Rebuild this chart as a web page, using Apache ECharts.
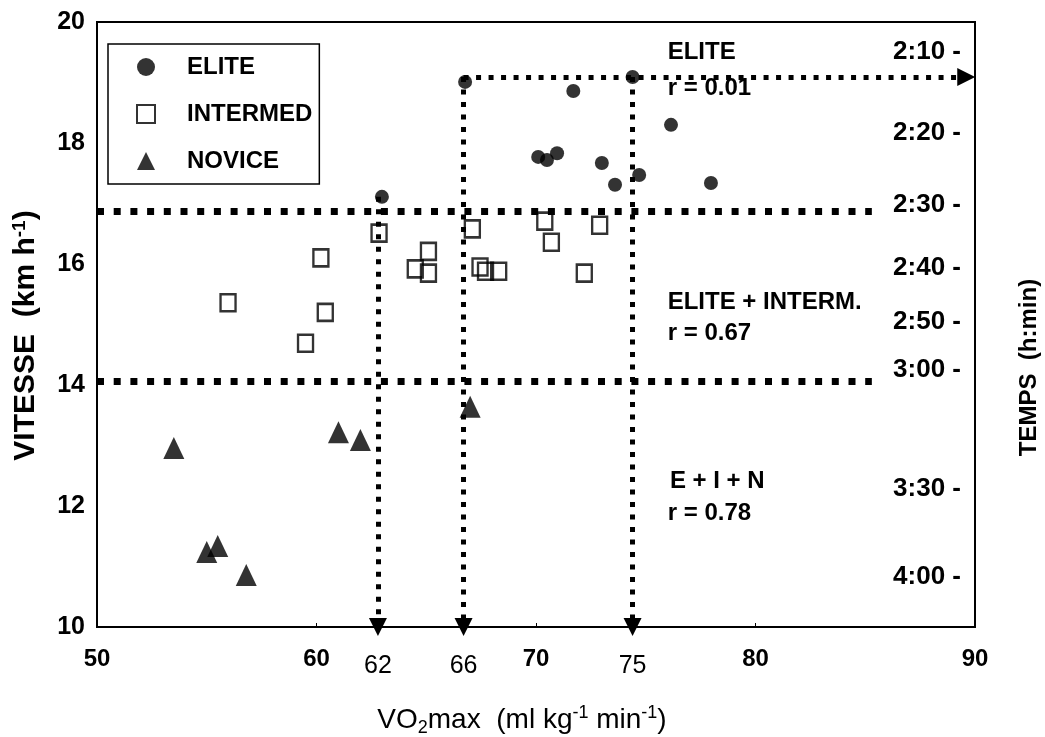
<!DOCTYPE html>
<html>
<head>
<meta charset="utf-8">
<script src="https://cdn.jsdelivr.net/npm/echarts@6/dist/echarts.min.js"></script>
<style>
html, body { margin: 0; padding: 0; background: #fff; }
#chart { width: 1045px; height: 737px; }
</style>
</head>
<body>
<div id="chart"></div>
<script>
var FONT = "'Liberation Sans Narrow', 'Arial Narrow', 'Liberation Sans', Arial, sans-serif";

// VO2max (x) et vitesse (y)
var eliteX = [62.98, 66.77, 74.4, 71.7, 76.15, 70.1, 70.5, 70.96, 73.0, 73.6, 74.7, 77.97];
var eliteY = [17.11, 19.01, 19.09, 18.86, 18.30, 17.77, 17.72, 17.83, 17.67, 17.31, 17.47, 17.34];

var intermedX = [62.85, 60.2, 65.1, 64.5, 65.1, 67.1, 67.45, 67.7, 68.3, 70.4, 70.7, 72.9, 72.2, 55.97, 60.4, 59.5];
var intermedY = [16.51, 16.10, 16.21, 15.92, 15.85, 16.58, 15.95, 15.88, 15.88, 16.71, 16.36, 16.64, 15.85, 15.36, 15.20, 14.69];

var noviceX = [53.5, 55.0, 55.5, 56.8, 61.0, 62.0, 67.0];
var noviceY = [12.96, 11.24, 11.34, 10.86, 13.22, 13.09, 13.64];

// axe des temps (droite) : libellés et vitesse correspondante
var tempsLabels = ['2:10', '2:20', '2:30', '2:40', '2:50', '3:00', '3:30', '4:00'];
var tempsSpeeds = [19.50, 18.17, 16.98, 15.94, 15.04, 14.25, 12.28, 10.83];

// repères VO2max (flèches verticales)
var guideX = [62.8, 66.7, 74.4];
var guideTop = [17.11, 19.09, 19.09];
var guideLabels = ['62', '66', '75'];
// niveaux 2:30 et 3:00
var levelY = [16.87, 14.07];
var eliteLevelY = 19.09;

function pairs(xs, ys) {
	var out = [];
	for (var i = 0; i < xs.length; i++) out.push([xs[i], ys[i]]);
	return out;
}

var guideLines = [];
for (var i = 0; i < guideX.length; i++) {
	guideLines.push([
		{ coord: [guideX[i], guideTop[i]], label: { formatter: guideLabels[i] } },
		{ coord: [guideX[i], 10] }
	]);
}
guideLines.push([
	{ coord: [guideX[1], eliteLevelY], label: { show: false } },
	{ coord: [89.6, eliteLevelY] }
]);

var levelLines = [];
for (var j = 0; j < levelY.length; j++) {
	levelLines.push([{ coord: [50, levelY[j]] }, { coord: [85.3, levelY[j]] }]);
}

var myChart = echarts.init(document.getElementById('chart'));
var option = {
	animation: false,
	backgroundColor: '#fff',
	textStyle: { fontFamily: FONT, color: '#000' },
	grid: {
		left: 97, right: 70, top: 22, bottom: 110,
		outerBoundsMode: 'none',
		show: true, borderColor: '#000', borderWidth: 2, backgroundColor: 'transparent'
	},
	legend: {
		orient: 'vertical',
		left: 108, top: 44,
		padding: [9, 7, 9, 28],
		itemWidth: 18, itemHeight: 18, itemGap: 19,
		borderColor: '#000', borderWidth: 1.5,
		textStyle: { fontFamily: FONT, fontWeight: 'bold', fontSize: 24, color: '#000', padding: [0, 0, 0, 27], lineHeight: 28 },
		data: ['ELITE', 'INTERMED', 'NOVICE']
	},
	xAxis: {
		type: 'value', min: 50, max: 90, interval: 10,
		axisLine: { show: false },
		axisTick: { show: true, inside: true, length: 4, lineStyle: { color: '#000' } },
		splitLine: { show: false },
		axisLabel: { margin: 20, fontFamily: FONT, fontWeight: 'bold', fontSize: 24, color: '#000' },
		name: 'VO{sub|2}max  (ml kg{sup|-1} min{sup|-1})',
		nameLocation: 'middle', nameGap: 76,
		nameTextStyle: {
			fontFamily: FONT, fontSize: 28, color: '#000', padding: [0, 28, 0, 0],
			rich: {
				sub: { fontFamily: FONT, fontSize: 18, color: '#000', padding: [16, 0, 0, 0] },
				sup: { fontFamily: FONT, fontSize: 18, color: '#000', padding: [0, 0, 13, 0] }
			}
		}
	},
	yAxis: [{
		type: 'value', min: 10, max: 20, interval: 2,
		axisLine: { show: false },
		axisTick: { show: false },
		splitLine: { show: false },
		axisLabel: { margin: 12, fontFamily: FONT, fontWeight: 'bold', fontSize: 25, color: '#000' },
		name: 'VITESSE  (km h{sup|-1})',
		nameLocation: 'middle', nameGap: 55, nameRotate: 90,
		nameTextStyle: {
			fontFamily: FONT, fontWeight: 'bold', fontSize: 30, color: '#000', padding: [0, 22, 0, 0],
			rich: { sup: { fontFamily: FONT, fontWeight: 'bold', fontSize: 19, color: '#000', padding: [0, 0, 13, 0] } }
		}
	}, {
		type: 'value', min: 10, max: 20, position: 'right',
		axisLine: { show: false },
		axisTick: { show: false },
		splitLine: { show: false },
		axisLabel: {
			inside: true, margin: 14,
			customValues: tempsSpeeds,
			fontFamily: FONT, fontWeight: 'bold', fontSize: 26, color: '#000',
			formatter: function (v) {
				var k = tempsSpeeds.indexOf(v);
				return (k >= 0 ? tempsLabels[k] : '') + ' -';
			}
		},
		name: 'TEMPS  (h:min)',
		nameLocation: 'middle', nameGap: 42, nameRotate: 90,
		nameTextStyle: { fontFamily: FONT, fontWeight: 'bold', fontSize: 24, color: '#000', padding: [0, 86, 0, 0] }
	}],
	series: [{
		name: 'ELITE', type: 'scatter', symbol: 'circle', symbolSize: 14,
		itemStyle: { color: '#000' },
		data: pairs(eliteX, eliteY),
		z: 5
	}, {
		name: 'INTERMED', type: 'scatter', symbol: 'rect', symbolSize: [15, 17],
		itemStyle: { color: 'rgba(0,0,0,0)', borderColor: '#000', borderWidth: 2.5 },
		data: pairs(intermedX, intermedY),
		z: 5
	}, {
		name: 'NOVICE', type: 'scatter', symbol: 'triangle', symbolSize: [21, 22],
		itemStyle: { color: '#000' },
		data: pairs(noviceX, noviceY),
		z: 5
	}, {
		name: 'niveaux', type: 'scatter', data: [], clip: false, silent: true,
		markLine: {
			silent: true, symbol: ['none', 'none'],
			lineStyle: { color: '#000', width: 7, type: [7, 9.7], cap: 'butt' },
			label: { show: false },
			data: levelLines
		}
	}, {
		name: 'reperes', type: 'scatter', data: [], clip: false, silent: true,
		markLine: {
			silent: true, symbol: ['none', 'triangle'], symbolSize: 18,
			lineStyle: { color: '#000', width: 5, type: [5, 7.5], cap: 'butt' },
			label: { show: true, position: 'end', distance: 27, fontFamily: FONT, fontSize: 25, color: '#000' },
			data: guideLines
		}
	}, {
		name: 'notes', type: 'scatter', data: [], clip: false, silent: true,
		markPoint: {
			silent: true, symbol: 'circle', symbolSize: 0,
			label: { show: true, position: 'right', distance: 0, formatter: '{b}', fontFamily: FONT, fontWeight: 'bold', fontSize: 24, color: '#000' },
			data: [
				{ name: 'ELITE', coord: [76.0, 19.50] },
				{ name: 'r = 0.01', coord: [76.0, 18.91] },
				{ name: 'ELITE + INTERM.', coord: [76.0, 15.37] },
				{ name: 'r = 0.67', coord: [76.0, 14.86] },
				{ name: 'E + I + N', coord: [76.1, 12.41] },
				{ name: 'r = 0.78', coord: [76.0, 11.88] }
			]
		}
	}]
};
myChart.setOption(option);
</script>
</body>
</html>
